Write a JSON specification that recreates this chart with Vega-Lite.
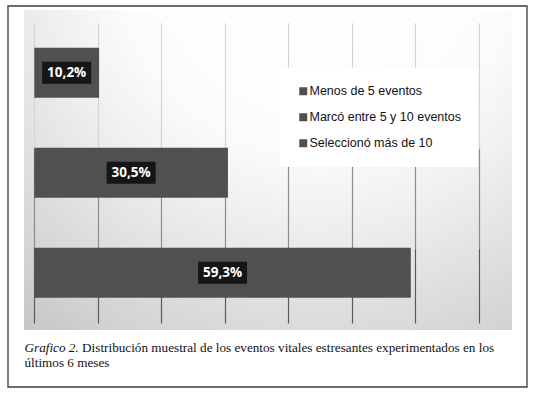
{
  "$schema": "https://vega.github.io/schema/vega-lite/v6.json",
  "width": 488,
  "height": 320,
  "autosize": {"type": "none"},
  "padding": {"left": 24, "top": 10, "right": 24, "bottom": 66},
  "background": "white",
  "config": {
    "view": {
      "stroke": null,
      "fill": {
        "gradient": "radial",
        "x1": 0.6, "y1": 0.05, "r1": 0,
        "x2": 0.6, "y2": 0.05, "r2": 1.0,
        "stops": [
          {"offset": 0, "color": "#ffffff"},
          {"offset": 0.4, "color": "#fcfcfc"},
          {"offset": 0.55, "color": "#f0f0f0"},
          {"offset": 0.7, "color": "#e2e2e2"},
          {"offset": 0.85, "color": "#d4d4d4"},
          {"offset": 1, "color": "#c4c4c4"}
        ]
      }
    }
  },
  "data": {
    "values": [
      {"cat": "Seleccionó más de 10", "pct": 10.2, "label": "10,2%"},
      {"cat": "Marcó entre 5 y 10 eventos", "pct": 30.5, "label": "30,5%"},
      {"cat": "Menos de 5 eventos", "pct": 59.3, "label": "59,3%"}
    ]
  },
  "layer": [
    {
      "mark": {"type": "bar"},
      "encoding": {
        "y": {
          "field": "cat", "type": "nominal",
          "sort": ["Seleccionó más de 10", "Marcó entre 5 y 10 eventos", "Menos de 5 eventos"],
          "scale": {"paddingInner": 0.5, "paddingOuter": 0.35, "align": 0.539},
          "axis": null
        },
        "x": {
          "field": "pct", "type": "quantitative",
          "scale": {"domain": [-1.622, 75.24], "nice": false, "zero": false},
          "axis": {
            "orient": "bottom",
            "values": [0, 10, 20, 30, 40, 50, 60, 70],
            "labels": false, "ticks": false, "domain": false,
            "grid": true, "gridColor": "#5a5a5a", "gridWidth": 1.2,
            "gridDash": [75, 3075], "gridDashOffset": 3143,
            "title": "Distribución muestral de los eventos vitales estresantes experimentados en los",
            "titleX": 57.6, "titleY": 21,
            "titleAlign": "left", "titleBaseline": "alphabetic",
            "titleFont": "Liberation Serif", "titleFontSize": 13.2,
            "titleFontWeight": "normal", "titleColor": "#111111"
          }
        },
        "color": {
          "field": "cat", "type": "nominal",
          "scale": {
            "domain": ["Menos de 5 eventos", "Marcó entre 5 y 10 eventos", "Seleccionó más de 10"],
            "range": ["#505050", "#505050", "#505050"]
          },
          "legend": {
            "title": null, "orient": "none", "legendX": 256, "legendY": 58,
            "direction": "vertical", "fillColor": "white", "padding": 17,
            "symbolType": "square", "symbolSize": 64, "symbolStrokeWidth": 0,
            "labelFont": "Liberation Sans", "labelFontSize": 12.5, "labelColor": "#111111",
            "labelOffset": 0, "rowPadding": 13, "labelLimit": 300
          }
        }
      }
    },
    {
      "mark": {
        "type": "point",
        "shape": "M-1,-0.449L1,-0.449L1,0.449L-1,0.449Z",
        "filled": true, "fill": "#151515", "opacity": 1, "size": 2401, "strokeWidth": 0.5
      },
      "encoding": {
        "y": {
          "field": "cat", "type": "nominal",
          "sort": ["Seleccionó más de 10", "Marcó entre 5 y 10 eventos", "Menos de 5 eventos"],
          "axis": null
        },
        "x": {
          "field": "pct", "type": "quantitative",
          "scale": {"domain": [-3.244, 150.48], "nice": false, "zero": false},
          "axis": {
            "orient": "bottom",
            "values": [0, 20, 40, 60, 80, 100, 120, 140],
            "labels": false, "ticks": false, "domain": false,
            "grid": true, "gridColor": "#8c8c8c", "gridWidth": 1.2,
            "gridDash": [100, 3000], "gridDashOffset": 3018,
            "title": "últimos 6 meses",
            "titleX": 0, "titleY": 36,
            "titleAlign": "left", "titleBaseline": "alphabetic",
            "titleFont": "Liberation Serif", "titleFontSize": 13.2,
            "titleFontWeight": "normal", "titleColor": "#111111"
          }
        },
        "stroke": {
          "field": "pct", "type": "quantitative",
          "scale": {"range": ["rgba(0,0,0,0)", "rgba(0,0,0,0)"]},
          "legend": {
            "title": null, "orient": "none", "legendX": -16, "legendY": -4,
            "direction": "vertical", "padding": 0,
            "gradientLength": 381, "gradientThickness": 519,
            "gradientStrokeColor": "#3c3c3c", "gradientStrokeWidth": 1.3,
            "labelOpacity": 0, "labelFontSize": 1
          }
        }
      }
    },
    {
      "mark": {"type": "text", "font": "Open Sans", "fontWeight": "bold", "fontSize": 13.5, "color": "#ffffff"},
      "encoding": {
        "y": {
          "field": "cat", "type": "nominal",
          "sort": ["Seleccionó más de 10", "Marcó entre 5 y 10 eventos", "Menos de 5 eventos"],
          "axis": null
        },
        "x": {
          "field": "pct", "type": "quantitative",
          "scale": {"domain": [-3.244, 150.48], "nice": false, "zero": false},
          "axis": {
            "orient": "top",
            "values": [0, 20, 40, 60, 80, 100, 120, 140],
            "labels": false, "ticks": false, "domain": false,
            "grid": true, "gridColor": "#d4d4d4", "gridWidth": 1.2,
            "gridDash": [125.3, 3000], "gridDashOffset": 3112.6,
            "title": "Grafico 2.",
            "titleX": 0, "titleY": 341,
            "titleAngle": 0,
            "titleAlign": "left", "titleBaseline": "alphabetic",
            "titleFont": "Liberation Serif", "titleFontSize": 13.2,
            "titleFontStyle": "italic", "titleFontWeight": "normal", "titleColor": "#111111"
          }
        },
        "text": {"field": "label"}
      }
    }
  ],
  "resolve": {"scale": {"x": "independent"}}
}
